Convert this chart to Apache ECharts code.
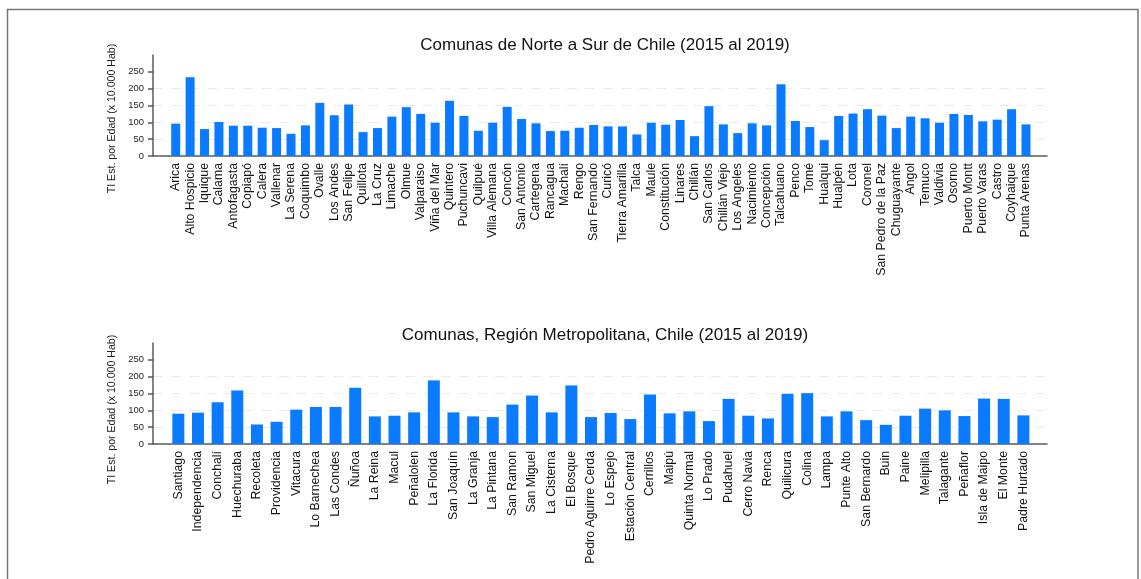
<!DOCTYPE html>
<html><head><meta charset="utf-8">
<script src="https://cdn.jsdelivr.net/npm/echarts@6/dist/echarts.min.js"></script>
<style>html,body{margin:0;padding:0;background:#fff}#c{width:1141px;height:579px}</style>
</head><body><div id="c"></div>
<script>
const norteCategories = ['Arica','Alto Hospicio','Iquique','Calama','Antofagasta','Copiapó','Calera','Vallenar','La Serena','Coquimbo','Ovalle','Los Andes','San Felipe','Quillota','La Cruz','Limache','Olmue','Valparaiso','Viña del Mar','Quintero','Puchuncavi','Quilpué','Villa Alemana','Concón','San Antonio','Cartegena','Rancagua','Machalí','Rengo','San Fernando','Curicó','Tierra Amarilla','Talca','Maule','Constitución','Linares','Chillán','San Carlos','Chillán Viejo','Los Angeles','Nacimiento','Concepción','Talcahuano','Penco','Tomé','Hualqui','Hualpén','Lota','Coronel','San Pedro de la Paz','Chuguayante','Angol','Temuco','Valdivia','Osorno','Puerto Montt','Puerto Varas','Castro','Coyhaique','Punta Arenas'];
const norteValues = [96,234,80,101,90,90,84,83,66,91,158,121,153,71,83,117,145,125,99,164,119,75,99,146,110,97,74,75,84,92,88,88,64,99,93,107,59,148,94,68,97,91,213,104,86,47,119,126,139,120,83,117,112,99,125,122,103,108,139,94];
const rmCategories = ['Santiago','Independencia','Conchalí','Huechuraba','Recoleta','Providencia','Vitacura','Lo Barnechea','Las Condes','Ñuñoa','La Reina','Macul','Peñalolen','La Florida','San Joaquín','La Granja','La Pintana','San Ramon','San Miguel','La Cisterna','El Bosque','Pedro Aguirre Cerda','Lo Espejo','Estación Central','Cerrillos','Maipú','Quinta Normal','Lo Prado','Pudahuel','Cerro Navia','Renca','Quilicura','Colina','Lampa','Punte Alto','San Bernardo','Buin','Paine','Melipilla','Talagante','Peñaflor','Isla de Maipo','El Monte','Padre Hurtado'];
const rmValues = [90,93,124,159,58,66,102,110,110,167,82,84,94,189,94,82,80,117,144,94,174,80,92,74,147,91,97,68,134,84,76,149,151,82,97,71,57,84,105,100,83,135,134,85];
const yTickValues = [0,50,100,150,200,250];
const titleNorte = 'Comunas de Norte a Sur de Chile (2015 al 2019)';
const titleRM = 'Comunas, Región Metropolitana, Chile (2015 al 2019)';
const yAxisName = 'TI Est. por Edad (x 10.000 Hab)';

const FONT = '"Liberation Sans", Arial, Helvetica, sans-serif';
const BAR = '#0a7bff';
const AXIS = { color: '#5a5a5a', width: 1.5 };

function frameAxes(gi) {
  return {
    x: { gridIndex: gi, type: 'value', min: 0, max: 1, axisLine: { show: true, onZero: false, lineStyle: AXIS }, axisTick: { show: false }, axisLabel: { show: false }, splitLine: { show: false } },
    y: { gridIndex: gi, type: 'value', min: 0, max: 300, interval: 50,
      axisLine: { show: true, lineStyle: AXIS },
      axisTick: { show: true, length: 5, customValues: yTickValues, lineStyle: AXIS },
      axisLabel: { customValues: yTickValues, fontSize: 9.4, margin: 9, color: '#222', fontFamily: FONT },
      splitLine: { show: true, showMinLine: false, showMaxLine: false, lineStyle: { type: [10, 8], color: '#ebebeb', width: 1 } } }
  };
}
function barAxes(gi, cats) {
  return {
    x: { gridIndex: gi, type: 'category', data: cats, axisLine: { show: false }, axisTick: { show: false },
      axisLabel: { rotate: 90, interval: 0, margin: 7, fontSize: 12.3, color: '#111', fontFamily: FONT } },
    y: { gridIndex: gi, type: 'value', min: 0, max: 300, show: false, splitLine: { show: false } }
  };
}
const f0 = frameAxes(0), b1 = barAxes(1, norteCategories), f2 = frameAxes(2), b3 = barAxes(3, rmCategories);

const chart = echarts.init(document.getElementById('c'));
chart.setOption({
  animation: false,
  backgroundColor: '#fff',
  textStyle: { fontFamily: FONT },
  title: [
    { text: titleNorte, left: 600, top: 32, textAlign: 'center', textStyle: { fontSize: 17, fontWeight: 'normal', color: '#111', fontFamily: FONT } },
    { text: titleRM, left: 600, top: 322, textAlign: 'center', textStyle: { fontSize: 17, fontWeight: 'normal', color: '#111', fontFamily: FONT } }
  ],
  grid: [
    { left: 153, right: 94, top: 55, height: 101 },
    { left: 168.5, right: 107.8, top: 55, height: 101 },
    { left: 153, right: 94, top: 343, height: 101 },
    { left: 168.5, right: 107.8, top: 343, height: 101 }
  ],
  xAxis: [f0.x, b1.x, f2.x, b3.x],
  yAxis: [f0.y, b1.y, f2.y, b3.y],
  series: [
    { type: 'bar', xAxisIndex: 1, yAxisIndex: 1, data: norteValues, barWidth: 9, itemStyle: { color: BAR } },
    { type: 'bar', xAxisIndex: 3, yAxisIndex: 3, data: rmValues, barWidth: 12, itemStyle: { color: BAR } }
  ],
  graphic: [
    { type: 'rect', silent: true, shape: { x: 7.5, y: 9.5, width: 1130.5, height: 620 }, style: { fill: 'none', stroke: '#777', lineWidth: 1.5 } },
    { type: 'text', silent: true, x: 112, y: 118.5, rotation: Math.PI / 2, style: { text: yAxisName, fontSize: 10.6, fill: '#222', align: 'center', verticalAlign: 'middle', fontFamily: FONT } },
    { type: 'text', silent: true, x: 112, y: 409.5, rotation: Math.PI / 2, style: { text: yAxisName, fontSize: 10.6, fill: '#222', align: 'center', verticalAlign: 'middle', fontFamily: FONT } }
  ]
});
</script>
</body></html>
